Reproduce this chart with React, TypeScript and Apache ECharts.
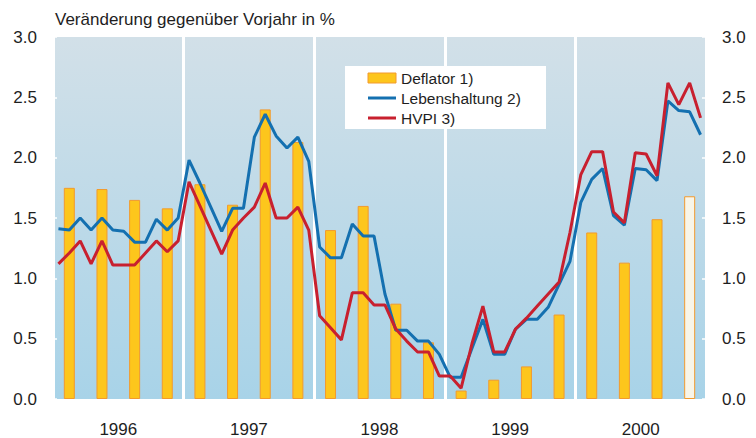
import React, { useEffect, useRef } from "react";
import * as echarts from "echarts";

const years = ["1996", "1997", "1998", "1999", "2000"];
const months = years.flatMap((y) =>
  Array.from({ length: 12 }, (_, i) => `${y}-${String(i + 1).padStart(2, "0")}`)
);

// Deflator 1) – quarterly
const deflator = [
  1.75, 1.74, 1.65, 1.58,
  1.78, 1.61, 2.40, 2.13,
  1.40, 1.60, 0.79, 0.47,
  0.07, 0.16, 0.27, 0.70,
  1.38, 1.13, 1.49, 1.68,
];

// Lebenshaltung 2) – monthly
const lebenshaltung = [
  1.41, 1.40, 1.50, 1.40, 1.50, 1.40, 1.39, 1.30, 1.30, 1.49, 1.40, 1.50,
  1.98, 1.79, 1.59, 1.39, 1.58, 1.58, 2.17, 2.36, 2.18, 2.08, 2.17, 1.97,
  1.26, 1.17, 1.17, 1.45, 1.35, 1.35, 0.87, 0.57, 0.57, 0.48, 0.48, 0.37,
  0.18, 0.18, 0.42, 0.66, 0.37, 0.37, 0.58, 0.66, 0.66, 0.76, 0.95, 1.14,
  1.63, 1.82, 1.91, 1.52, 1.44, 1.91, 1.90, 1.81, 2.47, 2.39, 2.38, 2.19,
];

// HVPI 3) – monthly
const hvpi = [
  1.12, 1.21, 1.31, 1.12, 1.31, 1.11, 1.11, 1.11, 1.21, 1.31, 1.22, 1.31,
  1.80, 1.60, 1.40, 1.20, 1.40, 1.50, 1.59, 1.79, 1.50, 1.50, 1.59, 1.40,
  0.69, 0.59, 0.49, 0.88, 0.88, 0.78, 0.78, 0.58, 0.48, 0.39, 0.39, 0.19,
  0.19, 0.09, 0.46, 0.77, 0.39, 0.39, 0.58, 0.67, 0.77, 0.87, 0.97, 1.38,
  1.86, 2.05, 2.05, 1.55, 1.46, 2.04, 2.03, 1.85, 2.62, 2.44, 2.62, 2.33,
];

const yTicks = [0, 0.5, 1, 1.5, 2, 2.5, 3];

const FONT = "'Liberation Sans', Arial, sans-serif";
const TEXT = "#1e1e1e";
const YELLOW = "#fdc61c";
const ORANGE = "#f29a2e";
const CREAM = "#f8f5e8";
const BLUE = "#1470b0";
const RED = "#c8202f";

export default function App() {
  const ref = useRef<HTMLDivElement>(null);

  useEffect(() => {
    if (!ref.current) return;
    const chart = echarts.init(ref.current, undefined, { renderer: "svg" });

    // bars placed at the middle month of each quarter
    const barData = months.map((_, i) => {
      if (i % 3 !== 1) return null;
      const q = (i - 1) / 3;
      const v = deflator[q];
      if (q === deflator.length - 1) {
        return { value: v, itemStyle: { color: CREAM } };
      }
      return v;
    });

    const yAxisCommon = {
      type: "value",
      min: yTicks[0],
      max: yTicks[yTicks.length - 1],
      interval: 0.5,
      axisLine: { show: false },
      axisTick: { show: true, inside: true, length: 4, lineStyle: { color: "#ffffff", width: 1.5 } },
      splitLine: { show: false },
      axisLabel: {
        formatter: (v: number) => v.toFixed(1),
        fontSize: 17,
        color: TEXT,
        fontFamily: FONT,
        margin: 16,
      },
    };

    chart.setOption({
      animation: false,
      title: {
        text: "Veränderung gegenüber Vorjahr in %",
        left: 55,
        top: 11,
        padding: 0,
        textStyle: { fontSize: 17, fontWeight: "normal", color: TEXT, fontFamily: FONT },
      },
      grid: {
        left: 53,
        right: 50,
        top: 37,
        bottom: 36,
        show: true,
        borderWidth: 0,
        backgroundColor: new echarts.graphic.LinearGradient(0, 0, 0, 1, [
          { offset: 0, color: "#d2e0e8" },
          { offset: 1, color: "#a8d3e8" },
        ]),
      },
      xAxis: [
        {
          type: "category",
          data: months,
          boundaryGap: true,
          axisLine: { show: false },
          axisTick: { show: false },
          axisLabel: { show: false },
          splitLine: { show: false },
        },
        {
          type: "category",
          data: years,
          position: "bottom",
          boundaryGap: true,
          axisLine: { show: false },
          axisTick: { show: false },
          axisLabel: { fontSize: 17, color: TEXT, fontFamily: FONT, margin: 22 },
          splitLine: { show: true, interval: 0, lineStyle: { color: "#ffffff", width: 3 } },
        },
      ],
      yAxis: [
        { ...yAxisCommon, position: "left" },
        { ...yAxisCommon, position: "right" },
      ],
      series: [
        {
          name: "Deflator 1)",
          type: "bar",
          xAxisIndex: 0,
          yAxisIndex: 0,
          data: barData,
          barWidth: 11,
          itemStyle: { color: YELLOW, borderColor: ORANGE, borderWidth: 1 },
        },
        {
          name: "Lebenshaltung 2)",
          type: "line",
          xAxisIndex: 0,
          yAxisIndex: 0,
          data: lebenshaltung,
          showSymbol: false,
          symbol: "none",
          lineStyle: { color: BLUE, width: 3 },
        },
        {
          name: "HVPI 3)",
          type: "line",
          xAxisIndex: 0,
          yAxisIndex: 0,
          data: hvpi,
          showSymbol: false,
          symbol: "none",
          lineStyle: { color: RED, width: 3 },
        },
      ],
      graphic: [
        {
          type: "group",
          left: 345,
          top: 66,
          z: 100,
          children: [
            { type: "rect", z: 100, shape: { x: 0, y: 0, width: 201, height: 63 }, style: { fill: "#ffffff" } },
            {
              type: "rect",
              z: 101,
              shape: { x: 23, y: 7, width: 28, height: 10 },
              style: { fill: YELLOW, stroke: ORANGE, lineWidth: 1 },
            },
            {
              type: "text",
              z: 101,
              x: 56,
              y: 12,
              style: { text: "Deflator 1)", fill: TEXT, font: `15.5px ${FONT}`, textVerticalAlign: "middle" },
            },
            { type: "rect", z: 101, shape: { x: 23, y: 30.5, width: 28, height: 3 }, style: { fill: BLUE } },
            {
              type: "text",
              z: 101,
              x: 56,
              y: 32,
              style: { text: "Lebenshaltung 2)", fill: TEXT, font: `15.5px ${FONT}`, textVerticalAlign: "middle" },
            },
            { type: "rect", z: 101, shape: { x: 23, y: 50.5, width: 28, height: 3 }, style: { fill: RED } },
            {
              type: "text",
              z: 101,
              x: 56,
              y: 52,
              style: { text: "HVPI 3)", fill: TEXT, font: `15.5px ${FONT}`, textVerticalAlign: "middle" },
            },
          ],
        },
      ],
    });

    return () => chart.dispose();
  }, []);

  return (
    <div
      ref={ref}
      style={{ position: "absolute", left: 0, top: 0, width: 756, height: 438 }}
    />
  );
}
